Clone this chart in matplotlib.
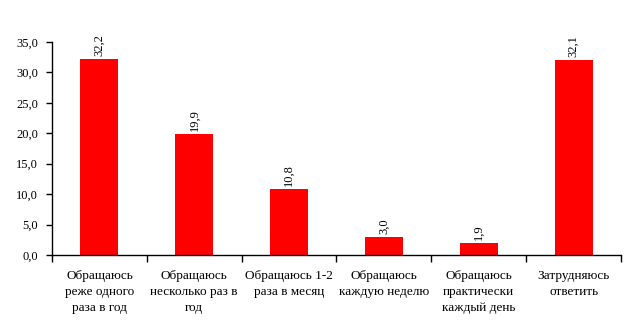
import matplotlib.pyplot as plt
from matplotlib.ticker import FuncFormatter, FixedLocator

categories = [
    "Обращаюсь\nреже одного\nраза в год",
    "Обращаюсь\nнесколько раз в\nгод",
    "Обращаюсь 1-2\nраза в месяц",
    "Обращаюсь\nкаждую неделю",
    "Обращаюсь\nпрактически\nкаждый день",
    "Затрудняюсь\nответить",
]
values = [32.2, 19.9, 10.8, 3.0, 1.9, 32.1]
y_ticks = [0, 5, 10, 15, 20, 25, 30, 35]

plt.rcParams['font.family'] = ['Liberation Serif', 'DejaVu Serif']
plt.rcParams['font.size'] = 9

fig = plt.figure(figsize=(6.26, 3.36), dpi=100)
ax = fig.add_axes([0.083, 0.241, 0.909, 0.634])

x = range(len(values))
ax.bar(x, values, width=0.4, color='#ff0000')

for i, v in enumerate(values):
    ax.text(i, v + 0.5, f"{v:.1f}".replace('.', ','), rotation=90,
            ha='center', va='bottom', fontsize=9)

ax.set_xlim(-0.5, len(values) - 0.5)
ax.set_ylim(0, 35)
ax.set_yticks(y_ticks)
ax.yaxis.set_major_formatter(FuncFormatter(lambda v, p: f"{v:.1f}".replace('.', ',')))

# category boundaries get the tick marks, names sit between them
ax.xaxis.set_major_locator(FixedLocator([i - 0.5 for i in range(len(values) + 1)]))
ax.set_xticklabels([])
ax.tick_params(axis='x', length=5, width=1)
ax.tick_params(axis='y', length=4, width=1, pad=6, labelsize=9)
for i, name in enumerate(categories):
    ax.text(i, -2.4, name, ha='center', va='top', fontsize=9.5,
            linespacing=1.45, transform=ax.transData)

for side in ('top', 'right'):
    ax.spines[side].set_visible(False)
for side in ('left', 'bottom'):
    ax.spines[side].set_linewidth(1)

fig.savefig('out.png', dpi=100)
